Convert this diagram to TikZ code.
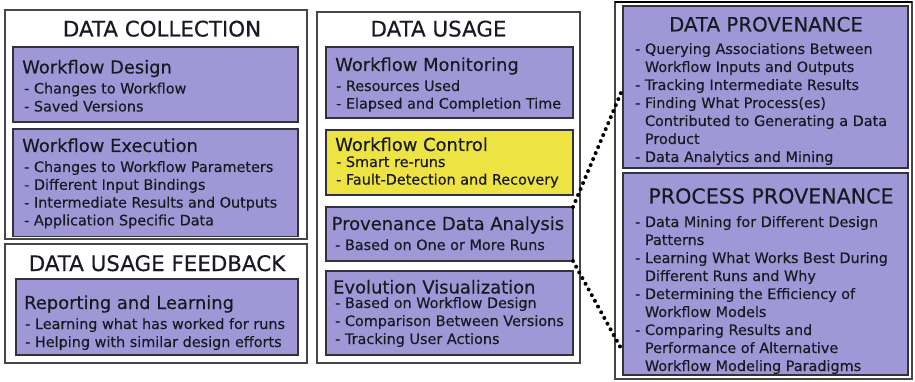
\documentclass[tikz,border=0pt]{standalone}
\usepackage{fontspec}
\setmainfont{DejaVu Sans}[FakeBold=0.35]
\usetikzlibrary{calc}

\definecolor{lav}{RGB}{160,152,214}
\definecolor{yel}{RGB}{237,228,67}
\definecolor{edge}{RGB}{50,50,60}
\definecolor{frame}{RGB}{70,70,70}
\definecolor{ink}{RGB}{25,25,35}

\tikzset{
  panel/.style={draw=frame, line width=1.4pt, fill=white, rectangle, inner sep=0pt, outer sep=0pt},
  card/.style={draw=edge, line width=1.4pt, fill=lav, rectangle, inner sep=0pt, outer sep=0pt},
  warncard/.style={card, fill=yel},
  ttl/.style={font=\fontsize{21.4}{25}\selectfont, text=ink, inner sep=0pt, anchor=base},
  hdr/.style={font=\fontsize{17.9}{21}\selectfont, text=ink, inner sep=0pt, anchor=base west},
  itm/.style={font=\fontsize{14.4}{17}\selectfont, text=ink, inner sep=0pt, anchor=base west},
  link/.style={draw=black, line width=4pt, line cap=round, dash pattern=on 0pt off 6.5pt},
}

% rectangle node given by its two corners
\newcommand\boxfromto[6]{%
  \pgfmathsetmacro\bw{#5-#3}\pgfmathsetmacro\bh{#6-#4}%
  \node[#2, anchor=north west, minimum width=\bw pt, minimum height=\bh pt] (#1) at (#3,#4) {};}

% one node per text line, baselines spaced evenly
\newcommand\textlines[5]{%
  \foreach \t [count=\i from 0] in {#5} {\node[itm] (#1-\i) at (#2,{#3+\i*#4}) {\t};}}

\newcommand\ind{\hphantom{- }}

\begin{document}
\begin{tikzpicture}[x=1pt, y=-1pt]
\useasboundingbox (0,0) rectangle (915,382);

% ---------- left column ----------
\boxfromto{dc}{panel}{5}{10}{307}{239}
\node[ttl] (dct) at (162,36.5) {DATA COLLECTION};

\boxfromto{wd}{card}{13}{47}{298}{122}
\node[hdr] (wdh) at (22,73.5) {Workflow Design};
\textlines{wdi}{24}{93.5}{18}{- Changes to Workflow, - Saved Versions}

\boxfromto{we}{card}{13}{129}{298}{236.5}
\node[hdr] (weh) at (22,152) {Workflow Execution};
\textlines{wei}{24}{172}{17.8}{- Changes to Workflow Parameters, - Different Input Bindings, - Intermediate Results and Outputs, - Application Specific Data}

\boxfromto{fb}{panel}{5}{244}{307}{363}
\node[ttl] (fbt) at (157,271) {DATA USAGE FEEDBACK};

\boxfromto{rl}{card}{16}{279}{298}{355}
\node[hdr] (rlh) at (24,309) {Reporting and Learning};
\textlines{rli}{25}{329}{18}{- Learning what has worked for runs, - Helping with similar design efforts}

% ---------- middle column ----------
\boxfromto{du}{panel}{317}{12}{580}{363}
\node[ttl] (dut) at (438.5,36.5) {DATA USAGE};

\boxfromto{wm}{card}{326}{47}{573}{118}
\node[hdr] (wmh) at (335,71) {Workflow Monitoring};
\textlines{wmi}{336}{91}{17.6}{- Resources Used, - Elapsed and Completion Time}

\boxfromto{wc}{warncard}{326}{130}{573}{195}
\node[hdr] (wch) at (335,151) {Workflow Control};
\textlines{wci}{336}{167}{17.6}{- Smart re-runs, - Fault-Detection and Recovery}

\boxfromto{an}{card}{326}{207}{573}{261}
\node[hdr] (anh) at (331.5,230) {Provenance Data Analysis};
\textlines{ani}{335}{250}{18}{- Based on One or More Runs}

\boxfromto{ev}{card}{326}{271}{573}{355}
\node[hdr] (evh) at (333,293.5) {Evolution Visualization};
\textlines{evi}{335}{308}{18}{- Based on Workflow Design, - Comparison Between Versions, - Tracking User Actions}

% ---------- right column ----------
\boxfromto{rp}{panel}{615}{2}{912}{379}
\draw[black, line width=2pt] (rp.north west) -- (rp.north east);

\boxfromto{dp}{card}{623}{6}{908}{168}
\node[ttl, font=\fontsize{19.8}{23}\selectfont] (dpt) at (766,31.5) {DATA PROVENANCE};
\textlines{dpi}{635}{54}{18}{- Querying Associations Between, \ind Workflow Inputs and Outputs, - Tracking Intermediate Results, - Finding What Process(es), \ind Contributed to Generating a Data, \ind Product, - Data Analytics and Mining}

\boxfromto{pp}{card}{623}{173}{908}{375}
\node[ttl, font=\fontsize{20.6}{24}\selectfont] (ppt) at (771,203.5) {PROCESS PROVENANCE};
\textlines{ppi}{635}{227}{18}{- Data Mining for Different Design, \ind Patterns, - Learning What Works Best During, \ind Different Runs and Why, - Determining the Efficiency of, \ind Workflow Models, - Comparing Results and, \ind Performance of Alternative, \ind Workflow Modeling Paradigms}

% ---------- dotted links ----------
\coordinate (dpin) at ($(dp.north west)!0.506!(dp.south west)$);
\coordinate (ppin) at ($(pp.north west)!0.886!(pp.south west)$);
\draw[link] (an.north east) -- (dpin);
\draw[link] (an.south east) -- (ppin);
\end{tikzpicture}
\end{document}
